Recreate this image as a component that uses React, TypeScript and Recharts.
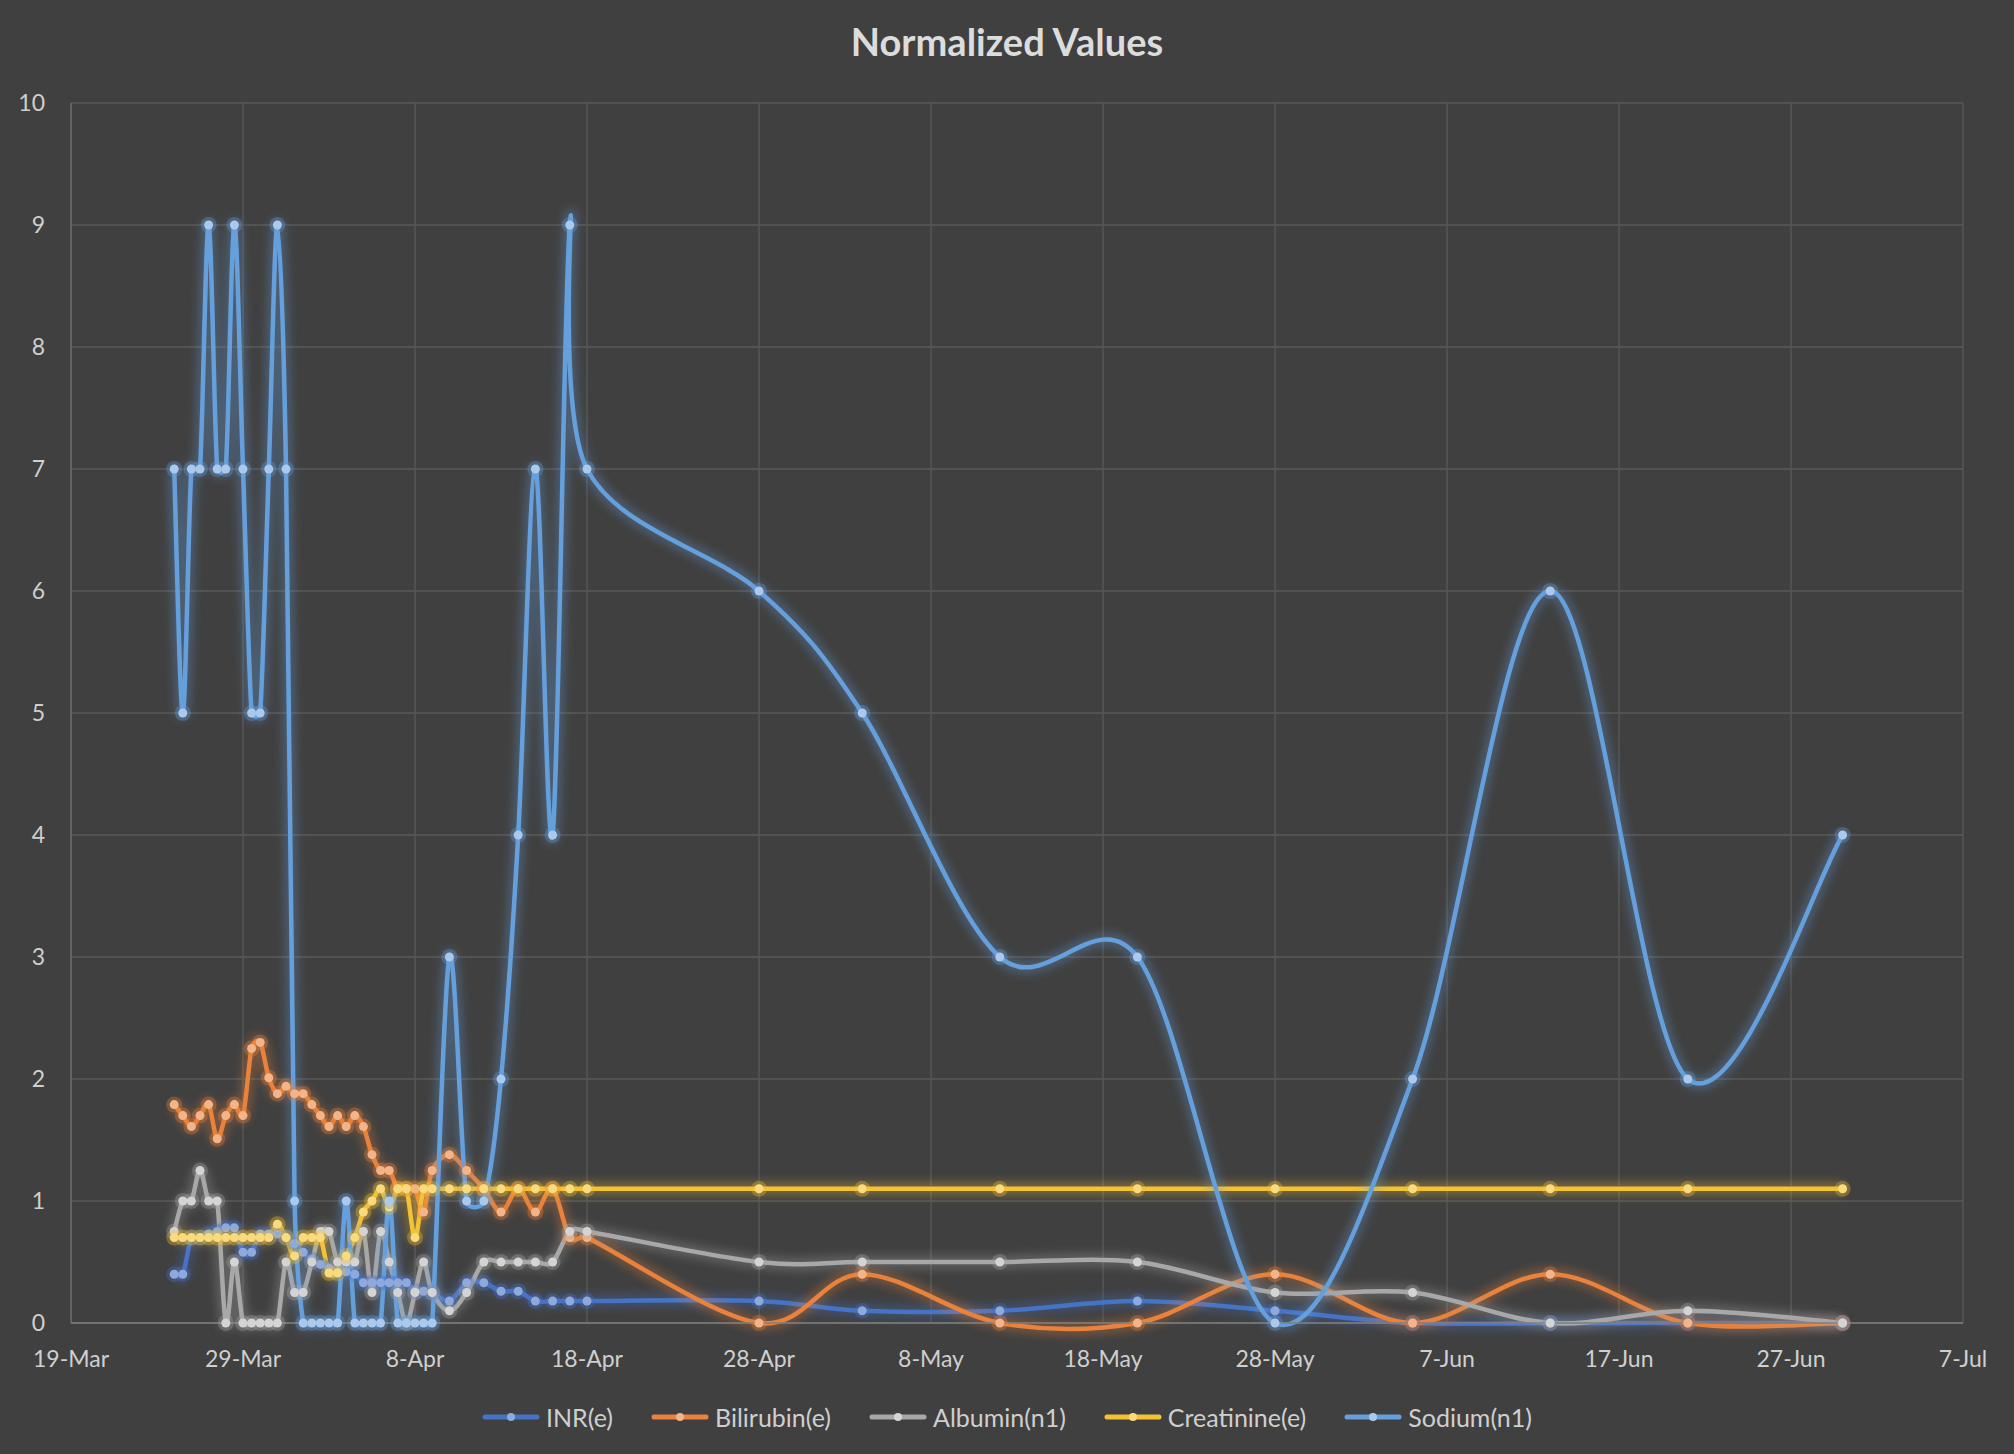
import React from 'react';
import { LineChart, Line, XAxis, YAxis, CartesianGrid, Legend } from 'recharts';

// Sample times as days after 19-Mar: twice a day first, then daily, then sparse
const days = [
  6, 6.5, 7, 7.5, 8, 8.5, 9, 9.5, 10, 10.5, 11, 11.5, 12, 12.5, 13, 13.5,
  14, 14.5, 15, 15.5, 16, 16.5, 17, 17.5, 18, 18.5, 19, 19.5, 20, 20.5, 21,
  22, 23, 24, 25, 26, 27, 28, 29, 30,
  40, 46, 54, 62, 70, 78, 86, 94, 103,
];

const inr = [
  0.4, 0.4, 0.7, 0.7, 0.73, 0.75, 0.78, 0.78, 0.58, 0.58, 0.73, 0.73, 0.73, 0.7, 0.65, 0.58,
  0.52, 0.48, 0.45, 0.42, 0.42, 0.4, 0.33, 0.33, 0.33, 0.33, 0.33, 0.33, 0.26, 0.26, 0.25,
  0.18, 0.33, 0.33, 0.26, 0.26, 0.18, 0.18, 0.18, 0.18,
  0.18, 0.1, 0.1, 0.18, 0.1, 0, 0, 0, 0,
];

const bilirubin = [
  1.79, 1.7, 1.61, 1.7, 1.79, 1.51, 1.7, 1.79, 1.7, 2.25, 2.3, 2.01, 1.88, 1.94, 1.88, 1.88,
  1.79, 1.7, 1.61, 1.7, 1.61, 1.7, 1.61, 1.38, 1.25, 1.25, 1.1, 1.1, 1.1, 0.91, 1.25,
  1.38, 1.25, 1.1, 0.91, 1.1, 0.91, 1.1, 0.7, 0.7,
  0, 0.4, 0, 0, 0.4, 0, 0.4, 0, 0,
];

const albumin = [
  0.75, 1, 1, 1.25, 1, 1, 0, 0.5, 0, 0, 0, 0, 0, 0.5, 0.25, 0.25,
  0.5, 0.75, 0.75, 0.5, 0.5, 0.5, 0.75, 0.25, 0.75, 0.5, 0.25, 0, 0.25, 0.5, 0.25,
  0.1, 0.25, 0.5, 0.5, 0.5, 0.5, 0.5, 0.75, 0.75,
  0.5, 0.5, 0.5, 0.5, 0.25, 0.25, 0, 0.1, 0,
];

const creatinine = [
  0.7, 0.7, 0.7, 0.7, 0.7, 0.7, 0.7, 0.7, 0.7, 0.7, 0.7, 0.7, 0.81, 0.7, 0.55, 0.7,
  0.7, 0.7, 0.41, 0.41, 0.55, 0.7, 0.91, 1.0, 1.1, 0.95, 1.1, 1.1, 0.7, 1.1, 1.1,
  1.1, 1.1, 1.1, 1.1, 1.1, 1.1, 1.1, 1.1, 1.1,
  1.1, 1.1, 1.1, 1.1, 1.1, 1.1, 1.1, 1.1, 1.1,
];

const sodium = [
  7, 5, 7, 7, 9, 7, 7, 9, 7, 5, 5, 7, 9, 7, 1, 0,
  0, 0, 0, 0, 1, 0, 0, 0, 0, 1, 0, 0, 0, 0, 0,
  3, 1, 1, 2, 4, 7, 4, 9, 7,
  6, 5, 3, 3, 0, 2, 6, 2, 4,
];

const xTicks = [0, 10, 20, 30, 40, 50, 60, 70, 80, 90, 100, 110];
const xTickLabels = ['19-Mar', '29-Mar', '8-Apr', '18-Apr', '28-Apr', '8-May', '18-May', '28-May', '7-Jun', '17-Jun', '27-Jun', '7-Jul'];
const yTicks = [0, 1, 2, 3, 4, 5, 6, 7, 8, 9, 10];

const series = [
  { key: 'inr', name: 'INR(e)', values: inr, color: '#4773C6', dot: '#8EA9DC' },
  { key: 'bilirubin', name: 'Bilirubin(e)', values: bilirubin, color: '#E8823C', dot: '#F3B489' },
  { key: 'albumin', name: 'Albumin(n1)', values: albumin, color: '#A8A8A8', dot: '#D4D4D4' },
  { key: 'creatinine', name: 'Creatinine(e)', values: creatinine, color: '#F4C235', dot: '#F9DB7E' },
  { key: 'sodium', name: 'Sodium(n1)', values: sodium, color: '#66A0DC', dot: '#AAC9EC' },
];

const data = days.map((day, i) => {
  const row: Record<string, number> = { day };
  series.forEach((s) => { row[s.key] = s.values[i]; });
  return row;
});

const dist = (a: number[], b: number[]) => Math.hypot(a[0] - b[0], a[1] - b[1]);

// Bezier smoothing like the spreadsheet "smoothed line": 1/6 tangents,
// but a control arm never gets longer than half of its own segment
function smoothCurve(context: any) {
  let pts: number[][] = [];
  return {
    areaStart() {},
    areaEnd() {},
    lineStart() { pts = []; },
    point(x: number, y: number) { pts.push([+x, +y]); },
    lineEnd() {
      if (!pts.length) return;
      context.moveTo(pts[0][0], pts[0][1]);
      for (let i = 0; i < pts.length - 1; i++) {
        const p0 = pts[i - 1] || pts[i];
        const p1 = pts[i];
        const p2 = pts[i + 1];
        const p3 = pts[i + 2] || p2;
        const d12 = dist(p1, p2);
        const d02 = dist(p0, p2);
        const d13 = dist(p1, p3);
        const f1 = d02 === 0 ? 0 : d02 / 6 < d12 / 2 ? 1 / 6 : d12 / (2 * d02);
        const f2 = d13 === 0 ? 0 : d13 / 6 < d12 / 2 ? 1 / 6 : d12 / (2 * d13);
        context.bezierCurveTo(
          p1[0] + (p2[0] - p0[0]) * f1, p1[1] + (p2[1] - p0[1]) * f1,
          p2[0] - (p3[0] - p1[0]) * f2, p2[1] - (p3[1] - p1[1]) * f2,
          p2[0], p2[1],
        );
      }
    },
  };
}

const FONT = 'Lato, "Open Sans", sans-serif';

const renderLegend = (props: any) => {
  const order = series.map((s) => s.name);
  const items = (props.payload || [])
    .filter((p: any) => p.type !== 'none')
    .sort((a: any, b: any) => order.indexOf(a.value) - order.indexOf(b.value));
  return (
    <div style={{ display: 'flex', justifyContent: 'center', alignItems: 'center', height: 74, gap: 38, fontFamily: FONT }}>
      {items.map((p: any) => {
        const s = series.find((x) => x.name === p.value);
        return (
          <div key={p.value} style={{ display: 'flex', alignItems: 'center', gap: 6 }}>
            <svg width={58} height={14}>
              <line x1={3} x2={55} y1={7} y2={7} stroke={p.color} strokeWidth={5} strokeLinecap="round" />
              <circle cx={29} cy={7} r={4} fill={s ? s.dot : p.color} />
            </svg>
            <span style={{ color: '#CFCFCF', fontSize: 25 }}>{p.value}</span>
          </div>
        );
      })}
    </div>
  );
};

export default function App() {
  return (
    <div style={{ position: 'relative', width: 2014, height: 1454, background: '#404040', fontFamily: FONT }}>
      <style>{'body{margin:0} .glow{filter:blur(5px)}'}</style>
      <div style={{ position: 'absolute', top: 18, left: 0, width: 2014, textAlign: 'center', color: '#DCDCDC', fontSize: 38, fontWeight: 700 }}>
        Normalized Values
      </div>
      <LineChart width={2014} height={1454} data={data} margin={{ top: 103, right: 51, bottom: 0, left: 0 }}>
        <CartesianGrid stroke="#585858" strokeWidth={1.4} />
        <XAxis
          dataKey="day"
          type="number"
          domain={[0, 110]}
          ticks={xTicks}
          interval={0}
          height={57}
          tickLine={false}
          tickMargin={22}
          axisLine={{ stroke: '#7E7E7E', strokeWidth: 1.5 }}
          tick={{ fill: '#CFCFCF', fontSize: 23, fontFamily: FONT }}
          tickFormatter={(v: number) => xTickLabels[xTicks.indexOf(v)] ?? ''}
        />
        <YAxis
          type="number"
          domain={[0, 10]}
          ticks={yTicks}
          interval={0}
          width={71}
          tickLine={false}
          tickMargin={20}
          axisLine={{ stroke: '#6A6A6A', strokeWidth: 1.5 }}
          tick={{ fill: '#CFCFCF', fontSize: 23, fontFamily: FONT }}
        />
        <Legend verticalAlign="bottom" content={renderLegend} wrapperStyle={{ left: 0, width: 2014, bottom: 0 }} />
        {series.map((s) => [
          <Line
            key={s.key + '-glow'}
            className="glow"
            dataKey={s.key}
            type={smoothCurve as any}
            stroke={s.color}
            strokeOpacity={0.32}
            strokeWidth={13}
            dot={{ r: 8, fill: s.color, fillOpacity: 0.32, strokeWidth: 0 }}
            activeDot={false}
            legendType="none"
            isAnimationActive={false}
          />,
          <Line
            key={s.key}
            name={s.name}
            dataKey={s.key}
            type={smoothCurve as any}
            stroke={s.color}
            strokeWidth={4.5}
            dot={{ r: 4.5, fill: s.dot, stroke: s.dot, strokeWidth: 0 }}
            activeDot={false}
            isAnimationActive={false}
          />,
        ])}
      </LineChart>
    </div>
  );
}
